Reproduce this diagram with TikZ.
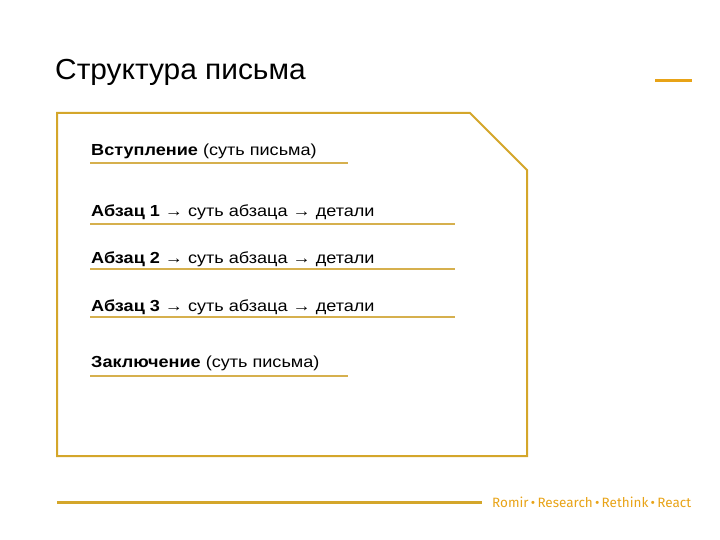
\documentclass[tikz,border=0pt]{standalone}
\usepackage{fontspec}
\setmainfont{Liberation Sans}
\newfontfamily\itemfont[FakeStretch=1.13]{Liberation Sans}
\newfontfamily\titlefont[FakeStretch=1.03]{Liberation Sans}
\newfontfamily\footfont{Fira Sans}
\definecolor{gold}{HTML}{D4A62A}
\definecolor{ulgold}{HTML}{D6B04E}
\definecolor{footor}{HTML}{E8A317}
\begin{document}
\begin{tikzpicture}[x=1pt,y=-1pt,
  item/.style={anchor=base west,inner sep=0pt,font=\itemfont\fontsize{16}{19}\selectfont},
  uline/.style={draw=ulgold,line width=1.2pt}]
\useasboundingbox (0,0) rectangle (720,540);
\node[anchor=base west,inner sep=0pt,font=\titlefont\fontsize{29}{34}\selectfont] (title) at (55,80) {Структура письма};
\draw[footor,line width=3pt] (655,81) -- (692,81);
\draw[gold,line width=2pt,fill=white] (57,113) -- (470,113) -- (527,170) -- (527,456) -- (57,456) -- cycle;
\node[item] (t1) at (91,156) {\textbf{Вступление} (суть письма)};
\draw[uline] (90,163) -- (348,163);
\node[item] (t2) at (91,216) {\textbf{Абзац 1} → суть абзаца → детали};
\draw[uline] (90,224) -- (455,224);
\node[item] (t3) at (91,263) {\textbf{Абзац 2} → суть абзаца → детали};
\draw[uline] (90,269) -- (455,269);
\node[item] (t4) at (91,311) {\textbf{Абзац 3} → суть абзаца → детали};
\draw[uline] (90,317) -- (455,317);
\node[item] (t5) at (91,367) {\textbf{Заключение} (суть письма)};
\draw[uline] (90,376) -- (348,376);
\draw[gold,line width=3pt] (57,502) -- (482,502);
\node[anchor=base west,inner sep=0pt,text=footor,font=\footfont\fontsize{13.5}{16}\selectfont] (foot) at (492,507) {Romir\,•\,Research\,•\,Rethink\,•\,React};
\end{tikzpicture}
\end{document}
